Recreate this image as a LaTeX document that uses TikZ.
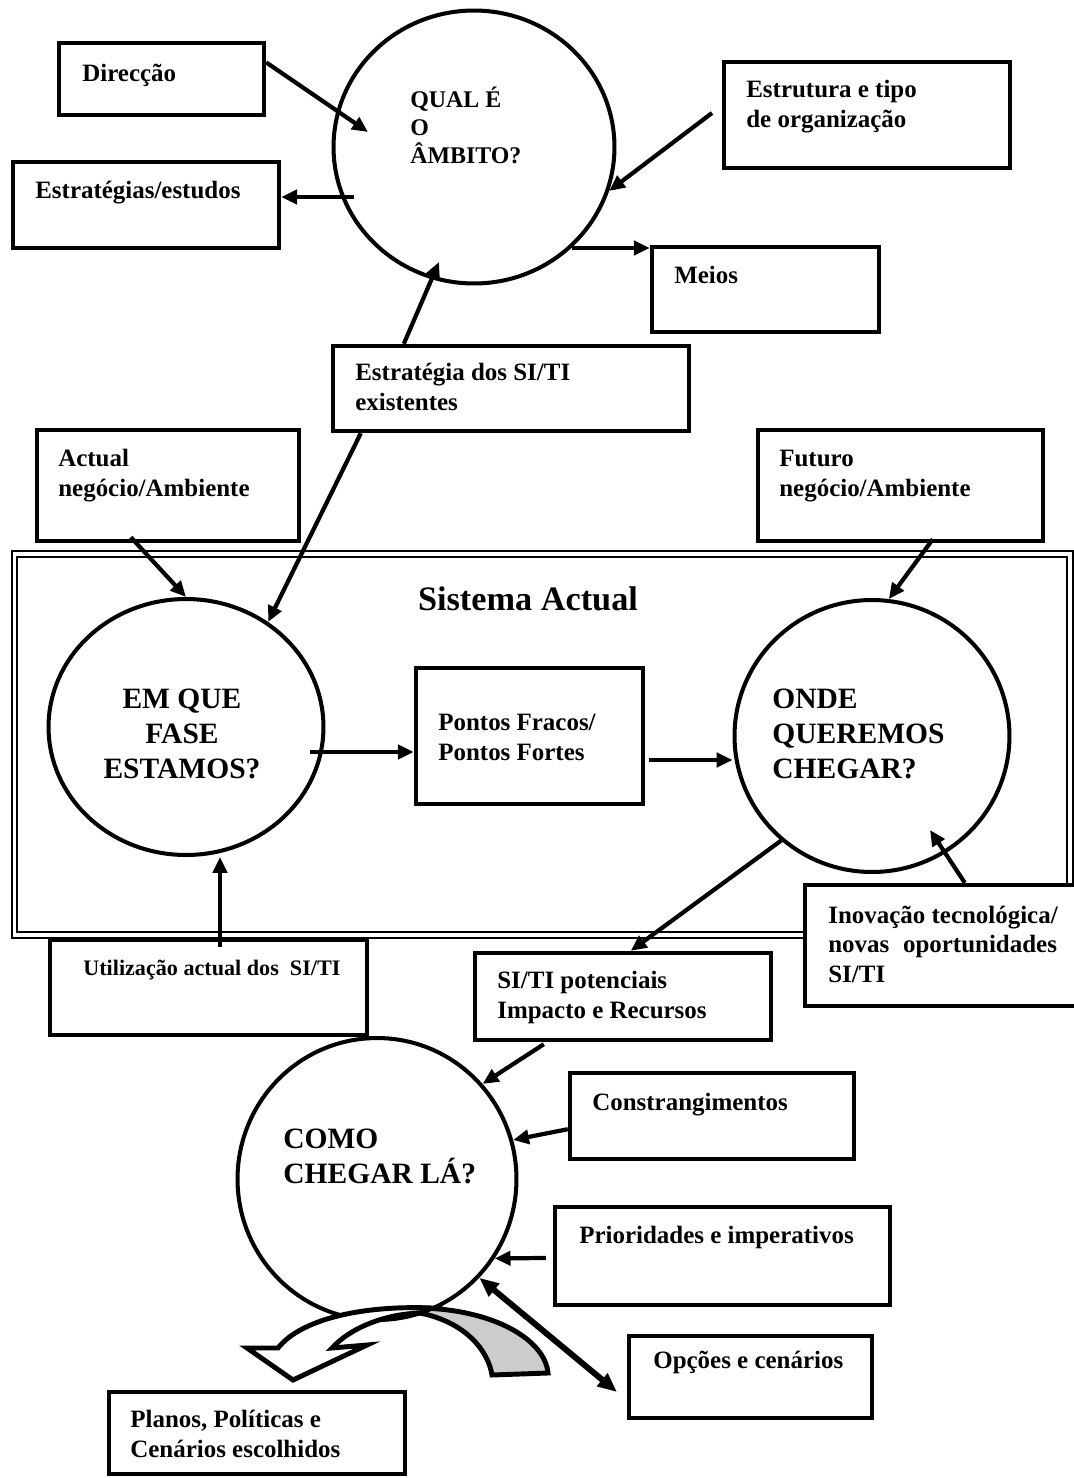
\documentclass[tikz,border=0pt]{standalone}
\usepackage{fontspec}
\setmainfont{Liberation Serif}
\usetikzlibrary{arrows.meta,fit,calc,shapes.geometric}

\begin{document}
\begin{tikzpicture}[x=0.02cm,y=-0.02cm,
  bx/.style={draw, fill=white, line width=2.5pt, inner sep=0pt},
  cir/.style={draw, ellipse, line width=2.3pt, inner sep=0pt},
  t/.style={font=\fontsize{14.2}{16.7}\selectfont\bfseries, align=left, anchor=base west, inner sep=0pt},
  bt/.style={font=\fontsize{16.8}{19.8}\selectfont\bfseries, inner sep=0pt},
  ar/.style={line width=2.4pt, -{Triangle[length=9pt,width=8pt]}},
  ar2/.style={line width=3.4pt, {Triangle[length=11pt,width=9pt]}-{Triangle[length=11pt,width=9pt]}},
  band/.style={line width=2.8pt, line join=miter}
]
\useasboundingbox (0,0) rectangle (1073,1478);

% ===== SISTEMA ACTUAL (double frame) =====
\node[draw, double, line width=0.9pt, double distance=2.2pt, inner sep=0pt, fit={(14.5,554) (1070,935)}] (sys) {};
\node[font=\fontsize{19.5}{23}\selectfont\bfseries, anchor=base, inner sep=0pt] (systit) at (528,610) {Sistema Actual};

% ===== circles =====
% (multi-line texts sit on the baseline of their last line)
\node[cir, minimum width=5.62cm, minimum height=5.46cm] (qual) at (474,147) {};
\node[t, font=\fontsize{13.6}{15.9}\selectfont\bfseries] (qualt) at (410,163) {QUAL É\\O\\ÂMBITO?};
\node[cir, minimum width=5.5cm, minimum height=5.12cm] (emq) at (186,727) {};
\node[bt, align=center, anchor=base] (emqt) at (182,778) {EM QUE\\FASE\\ESTAMOS?};
\node[cir, minimum width=5.5cm, minimum height=5.44cm] (onde) at (872,736) {};
\node[bt, align=left, anchor=base west] (ondet) at (772,778) {ONDE\\QUEREMOS\\CHEGAR?};
\node[cir, minimum width=5.58cm, minimum height=5.64cm] (como) at (377,1179) {};
\node[bt, align=left, anchor=base west] (comot) at (283,1183) {COMO\\CHEGAR LÁ?};

% ===== turning arrow under COMO =====
\draw[band, fill=black!20] (422,1308) .. controls (495,1310) and (545,1340) .. (548,1373) -- (492,1375) .. controls (488,1350) and (465,1322) .. (420,1313) -- cycle;
\draw[band, fill=white] (432,1308) .. controls (360,1305) and (300,1320) .. (278,1348) -- (247,1348) -- (293,1380) -- (367,1345) -- (332,1348) .. controls (350,1328) and (385,1314) .. (420,1313) -- cycle;

% ===== boxes =====
\node[bx, fit={(59,43) (264,115)}] (dir) {};
\node[t] (dirt) at (82,81) {Direcção};
\node[bx, fit={(13,162) (279,248)}] (estr) {};
\node[t] (estrt) at (35,198) {Estratégias/estudos};
\node[bx, fit={(724,62) (1010,168)}] (estrut) {};
\node[t] (estrutt) at (746,127) {Estrutura e tipo\\de organização};
\node[bx, fit={(652,247) (879,332)}] (meios) {};
\node[t] (meiost) at (674,283) {Meios};
\node[bx, fit={(333,346) (689,431)}] (strat) {};
\node[t] (stratt) at (355,410) {Estratégia dos SI/TI\\existentes};
\node[bx, fit={(37,430) (299,541)}] (act) {};
\node[t] (actt) at (58,496) {Actual\\negócio/Ambiente};
\node[bx, fit={(758,430) (1043,541)}] (fut) {};
\node[t] (futt) at (779,496) {Futuro\\negócio/Ambiente};
\node[bx, fit={(416,668) (643,804)}] (pontos) {};
\node[t] (pontost) at (438,760) {Pontos Fracos/\\Pontos Fortes};
\node[bx, fit={(805,885) (1095,1006)}] (inov) {};
\node[t] (inovt) at (828,982) {Inovação tecnológica/\\novas\hspace{0.55em}oportunidades\\SI/TI};
\node[bx, fit={(50,940) (367,1035)}] (util) {};
\node[t, font=\fontsize{12.6}{15}\selectfont\bfseries] (utilt) at (83,975) {Utilização actual dos\ \ SI/TI};
\node[bx, fit={(475,953) (771,1040)}] (siti) {};
\node[t] (sitit) at (497,1018) {SI/TI potenciais\\Impacto e Recursos};
\node[bx, fit={(570,1073) (854,1159)}] (constr) {};
\node[t] (constrt) at (592,1110) {Constrangimentos};
\node[bx, fit={(555,1207) (890,1305)}] (prior) {};
\node[t] (priort) at (579,1243) {Prioridades e imperativos};
\node[bx, fit={(629,1336) (872,1418)}] (opc) {};
\node[t] (opct) at (653,1368) {Opções e cenários};
\node[bx, fit={(109,1392) (405,1474)}] (planos) {};
\node[t] (planost) at (130,1457) {Planos, Políticas e\\Cenários escolhidos};

% ===== free ends of the connectors =====
\coordinate (q1) at (368,132);
\coordinate (q2) at (354,197);
\coordinate (q3) at (712,113);
\coordinate (q5) at (439,262);
\coordinate (e9) at (310,752);
\coordinate (p10) at (649,760);
\coordinate (o11) at (930,830);
\coordinate (u13) at (220,947);
\coordinate (c16) at (546,1258);
\coordinate (o17) at (617,1392);

% ===== connectors =====
\draw[ar] (dir.9) -- (q1);
\draw[ar] (q2) -- (q2 -| estr.east);
\draw[ar] (q3) -- (qual.-18);
\draw[ar] (qual.-46) -- (qual.-46 -| meios.west);
\draw[ar] ($(strat.north west)+(73,0)$) -- (q5);
\draw[ar] ($(strat.south west)+(30,0)$) -- (emq.52);
\draw[ar] ($(act.south west)+(96,-6)$) -- (emq.north);
\draw[ar] ($(fut.south west)+(177,-4)$) -- (onde.83);
\draw[ar] (e9) -- (e9 -| pontos.west);
\draw[ar] (p10) -- (p10 -| onde.west);
\draw[ar] ($(inov.north west)+(162,0)$) -- (o11);
\draw[ar] (onde.-131) -- ($(siti.north west)+(158,0)$);
\draw[ar] (u13) -- (u13 |- emq.south);
\draw[ar] ($(siti.south west)+(71,2)$) -- (como.42);
\draw[ar] ($(constr.south west)+(0,-32)$) -- (como.16);
\draw[ar] (c16) -- (como.-34);
\draw[ar2] (como.-44) -- (o17);

\end{tikzpicture}
\end{document}
